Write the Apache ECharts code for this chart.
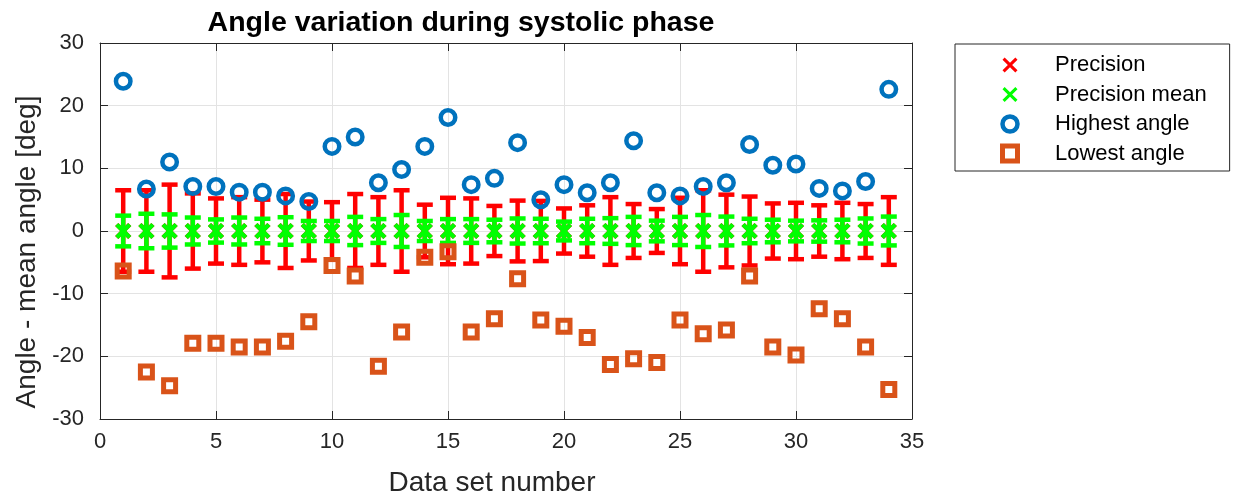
<!DOCTYPE html>
<html>
<head>
<meta charset="utf-8">
<script src="https://cdn.jsdelivr.net/npm/echarts@6/dist/echarts.min.js"></script>
<style>
html,body{margin:0;padding:0;background:#fff;}
#chart{width:1236px;height:498px;}
</style>
</head>
<body>
<div id="chart"></div>
<script>
const dataSetNumbers = [1,2,3,4,5,6,7,8,9,10,11,12,13,14,15,16,17,18,19,20,21,22,23,24,25,26,27,28,29,30,31,32,33,34];
const centerValues = [0,0,0,0,0,0,0,0,0,0,0,0,0,0,0,0,0,0,0,0,0,0,0,0,0,0,0,0,0,0,0,0,0,0];
const precision = [6.5,6.5,7.4,6.0,5.2,5.4,5.0,5.9,4.7,4.6,5.9,5.4,6.5,4.2,5.3,5.2,4.0,4.85,4.8,3.6,4.1,5.4,4.3,3.5,5.3,6.5,5.8,5.5,4.4,4.5,4.1,4.5,4.3,5.4];
const precisionMean = [2.45,2.75,2.65,2.15,1.85,2.15,1.95,2.2,1.6,1.6,2.25,1.9,2.55,1.6,1.9,1.9,1.8,2.0,1.95,1.5,1.95,2.05,2.25,1.65,2.25,2.55,2.3,1.95,1.8,1.65,1.7,1.8,2.0,2.3];
const highestAngle = [23.9,6.7,11.0,7.1,7.1,6.2,6.2,5.6,4.7,13.5,15.0,7.7,9.8,13.5,18.1,7.4,8.4,14.1,5.0,7.4,6.1,7.7,14.4,6.1,5.6,7.1,7.7,13.8,10.5,10.7,6.8,6.4,7.9,22.6];
const lowestAngle = [-6.4,-22.5,-24.7,-17.9,-17.9,-18.5,-18.5,-17.6,-14.5,-5.5,-7.2,-21.6,-16.1,-4.2,-3.3,-16.1,-14.0,-7.6,-14.2,-15.2,-17.0,-21.3,-20.4,-21.0,-14.2,-16.4,-15.8,-7.2,-18.5,-19.8,-12.4,-14.0,-18.5,-25.3];
const xTicks = {min: 0, max: 35, interval: 5};
const yTicks = {min: -30, max: 30, interval: 10};

const FONT = 'Liberation Sans';
const AX = '#262626';
const RED = '#FF0000', GREEN = '#00FF00', BLUE = '#0072BD', ORANGE = '#D95319';
const XPATH = 'path://M2,0 L7,5 L12,0 L14,2 L9,7 L14,12 L12,14 L7,9 L2,14 L0,12 L5,7 L0,2 Z';
const SQPATH = 'path://M0,0 L10,0 L10,10 L0,10 Z';

function errRender(color, capW, lw, markSize) {
  return function (params, api) {
    const x = api.value(0), c = api.value(1), h = api.value(2);
    const pt = api.coord([x, c + h]);
    const pb = api.coord([x, c - h]);
    const pm = api.coord([x, c]);
    const st = {stroke: color, lineWidth: lw, fill: null};
    const hw = capW / 2, m = markSize / 2;
    return {
      type: 'group',
      children: [
        {type: 'line', shape: {x1: pt[0], y1: pt[1], x2: pb[0], y2: pb[1]}, style: st},
        {type: 'line', shape: {x1: pt[0] - hw, y1: pt[1], x2: pt[0] + hw, y2: pt[1]}, style: st},
        {type: 'line', shape: {x1: pb[0] - hw, y1: pb[1], x2: pb[0] + hw, y2: pb[1]}, style: st},
        {type: 'line', shape: {x1: pm[0] - m, y1: pm[1] - m, x2: pm[0] + m, y2: pm[1] + m}, style: st},
        {type: 'line', shape: {x1: pm[0] - m, y1: pm[1] + m, x2: pm[0] + m, y2: pm[1] - m}, style: st}
      ]
    };
  };
}

const chart = echarts.init(document.getElementById('chart'), null, {renderer: 'canvas'});
const baseX = {
  type: 'value', min: xTicks.min, max: xTicks.max, interval: xTicks.interval,
  axisLine: {show: true, onZero: false, lineStyle: {color: AX, width: 1}},
  axisTick: {show: true, inside: true, length: 8, lineStyle: {color: AX}},
};
const baseY = {
  type: 'value', min: yTicks.min, max: yTicks.max, interval: yTicks.interval,
  axisLine: {show: true, onZero: false, lineStyle: {color: AX, width: 1}},
  axisTick: {show: true, inside: true, length: 8, lineStyle: {color: AX}},
};

chart.setOption({
  animation: false,
  backgroundColor: '#fff',
  title: {
    text: 'Angle variation during systolic phase',
    left: 456, top: 4, textAlign: 'center',
    textStyle: {fontFamily: FONT, fontSize: 28.5, fontWeight: 'bold', color: '#000'}
  },
  grid: {left: 100, right: 324, top: 43, bottom: 79, containLabel: false, outerBoundsMode: 'none'},
  legend: {
    orient: 'vertical', left: 955, top: 44,
    padding: [10, 23, 6.5, 45], itemGap: 7.5,
    itemWidth: 80, itemHeight: 15, symbolKeepAspect: true,
    borderColor: AX, borderWidth: 1, backgroundColor: '#fff',
    textStyle: {fontFamily: FONT, fontSize: 22, color: '#000'},
    data: [
      {name: 'Precision', icon: XPATH, itemStyle: {color: RED, borderWidth: 0, opacity: 1}},
      {name: 'Precision mean', icon: XPATH, itemStyle: {color: GREEN, borderWidth: 0, opacity: 1}},
      {name: 'Highest angle', icon: 'circle', itemStyle: {color: 'rgba(255,255,255,0)', borderColor: BLUE, borderWidth: 4.5, opacity: 1}},
      {name: 'Lowest angle', icon: SQPATH, itemStyle: {color: 'rgba(255,255,255,0)', borderColor: ORANGE, borderWidth: 5, opacity: 1}}
    ]
  },
  xAxis: [
    Object.assign({}, baseX, {
      position: 'bottom',
      splitLine: {show: true, lineStyle: {color: '#e3e3e3', width: 1}},
      axisLabel: {fontFamily: FONT, fontSize: 22, color: AX, margin: 12},
      name: 'Data set number', nameLocation: 'middle', nameGap: 50,
      nameTextStyle: {fontFamily: FONT, fontSize: 28, color: AX, padding: [0, 28, 0, 0]}
    }),
    Object.assign({}, baseX, {
      position: 'top', splitLine: {show: false}, axisLabel: {show: false}
    })
  ],
  yAxis: [
    Object.assign({}, baseY, {
      position: 'left',
      splitLine: {show: true, lineStyle: {color: '#e3e3e3', width: 1}},
      axisLabel: {fontFamily: FONT, fontSize: 22, color: AX, margin: 16},
      name: 'Angle - mean angle [deg]', nameLocation: 'middle', nameGap: 59,
      nameTextStyle: {fontFamily: FONT, fontSize: 28, color: AX, padding: [0, 42, 0, 0]}
    }),
    Object.assign({}, baseY, {
      position: 'right', splitLine: {show: false}, axisLabel: {show: false}
    })
  ],
  series: [
    {
      name: 'Precision', type: 'custom', xAxisIndex: 0, yAxisIndex: 0,
      itemStyle: {color: RED},
      renderItem: errRender(RED, 16, 4.5, 13),
      encode: {x: 0, y: 1},
      data: precision.map((p, i) => [dataSetNumbers[i], centerValues[i], p]),
      z: 2
    },
    {
      name: 'Precision mean', type: 'custom', xAxisIndex: 0, yAxisIndex: 0,
      itemStyle: {color: GREEN},
      renderItem: errRender(GREEN, 16, 4.5, 13),
      encode: {x: 0, y: 1},
      data: precisionMean.map((p, i) => [dataSetNumbers[i], centerValues[i], p]),
      z: 3
    },
    {
      name: 'Highest angle', type: 'scatter', xAxisIndex: 0, yAxisIndex: 0,
      symbol: 'circle', symbolSize: 14.5,
      itemStyle: {color: 'rgba(255,255,255,0)', borderColor: BLUE, borderWidth: 4.5, opacity: 1},
      data: highestAngle.map((v, i) => [dataSetNumbers[i], v]),
      z: 4
    },
    {
      name: 'Lowest angle', type: 'scatter', xAxisIndex: 0, yAxisIndex: 0,
      symbol: 'rect', symbolSize: 12,
      itemStyle: {color: 'rgba(255,255,255,0)', borderColor: ORANGE, borderWidth: 5, opacity: 1},
      data: lowestAngle.map((v, i) => [dataSetNumbers[i], v]),
      z: 5
    }
  ]
});
</script>
</body>
</html>
